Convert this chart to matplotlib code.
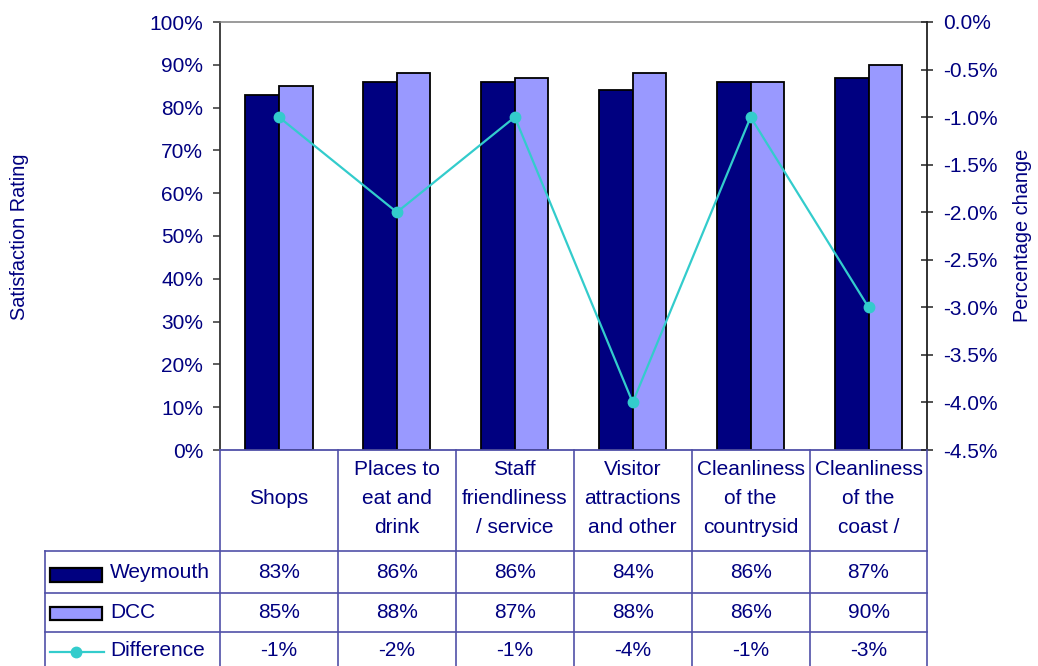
import matplotlib
matplotlib.use("Agg")
import matplotlib.pyplot as plt
import matplotlib.transforms as mtransforms
from matplotlib.lines import Line2D
from matplotlib.patches import Rectangle
from matplotlib.ticker import FuncFormatter, MultipleLocator
import numpy as np

plt.rcParams['font.family'] = ['Liberation Sans', 'DejaVu Sans']

categories = ["Shops", "Places to\neat and\ndrink", "Staff\nfriendliness\n/ service",
              "Visitor\nattractions\nand other", "Cleanliness\nof the\ncountrysid",
              "Cleanliness\nof the\ncoast /"]
weymouth = [0.83, 0.86, 0.86, 0.84, 0.86, 0.87]
dcc = [0.85, 0.88, 0.87, 0.88, 0.86, 0.90]
difference = [-0.01, -0.02, -0.01, -0.04, -0.01, -0.03]
series_names = ["Weymouth", "DCC", "Difference"]

NAVY = '#000080'
LILAC = '#9999FF'
TEAL = '#33CCCC'
TXT = '#000080'
GRID = '#5050A8'
FS = 15

W, H = 1038, 666
fig = plt.figure(figsize=(W / 100, H / 100), dpi=100)

def fx(px):
    return px / W

def fy(py):
    return 1 - py / H

ax = fig.add_axes([fx(220), fy(450), fx(927.5) - fx(220), fy(22) - fy(450)])
n = len(categories)
x = np.arange(n)
bw = 0.285
ax.bar(x - bw / 2, weymouth, bw, color=NAVY, edgecolor='black', linewidth=1.3, zorder=2)
ax.bar(x + bw / 2, dcc, bw, color=LILAC, edgecolor='black', linewidth=1.3, zorder=2)
ax.set_xlim(-0.5, n - 0.5)
ax.set_ylim(0, 1.0)
ax.yaxis.set_major_locator(MultipleLocator(0.1))
ax.yaxis.set_major_formatter(FuncFormatter(lambda v, p: f"{v*100:.0f}%"))
ax.set_xticks([])
ax.tick_params(axis='y', direction='out', length=5, width=1.1, color='#333333',
               labelsize=FS, labelcolor=TXT, pad=7)
ax.spines['left'].set_color('#333333')
ax.spines['left'].set_linewidth(1.3)
ax.spines['top'].set_color('#808080')
ax.spines['top'].set_linewidth(1.1)
ax.spines['bottom'].set_color(GRID)
ax.spines['bottom'].set_linewidth(1.3)
ax.spines['right'].set_visible(False)

ax2 = ax.twinx()
ax2.plot(x, difference, color=TEAL, linewidth=1.6, marker='o', markersize=7.5,
         markerfacecolor=TEAL, markeredgecolor=TEAL, zorder=3)
ax2.set_ylim(-0.045, 0.0)
ax2.yaxis.set_major_locator(MultipleLocator(0.005))
ax2.yaxis.set_major_formatter(FuncFormatter(lambda v, p: f"{v*100:.1f}%" if abs(v) > 1e-9 else "0.0%"))
ax2.tick_params(axis='y', direction='inout', length=9, width=1.1, color='#222222',
                labelsize=FS, labelcolor=TXT, pad=7)
ax2.spines['right'].set_color('#222222')
ax2.spines['right'].set_linewidth(1.3)
for s in ['left', 'top', 'bottom']:
    ax2.spines[s].set_visible(False)

fig.text(fx(20), fy(237), "Satisfaction Rating", rotation=90, ha='center', va='center',
         fontsize=14.3, color=TXT)
fig.text(fx(1023), fy(235), "Percentage change", rotation=90, ha='center', va='center',
         fontsize=14.3, color=TXT)

# ---- data table ----
trans = mtransforms.blended_transform_factory(ax.transData, fig.transFigure)
lw = 1.2
for b in np.arange(-0.5, n, 1.0):
    fig.add_artist(Line2D([b, b], [fy(450), fy(666)], transform=trans, color=GRID, lw=lw))
fig.add_artist(Line2D([fx(45), fx(45)], [fy(550.7), fy(666)], transform=fig.transFigure,
                      color=GRID, lw=lw))
for yy in [550.7, 592.7, 631.7]:
    fig.add_artist(Line2D([fx(45), fx(926.5)], [fy(yy), fy(yy)], transform=fig.transFigure,
                          color=GRID, lw=lw))

for i, c in enumerate(categories):
    fig.text(i, fy(498.5), c, transform=trans, ha='center', va='center', fontsize=FS,
             color=TXT, linespacing=1.64)

rows = [weymouth, dcc, difference]
row_y = [573, 612, 651]
for vals, yy in zip(rows, row_y):
    for i, v in enumerate(vals):
        fig.text(i, fy(yy), f"{v*100:.0f}%", transform=trans, ha='center', va='center',
                 fontsize=FS, color=TXT)

fig.add_artist(Rectangle((fx(50), fy(581.5)), fx(102) - fx(50), fy(568) - fy(581.5),
                         transform=fig.transFigure, facecolor=NAVY, edgecolor='black', lw=1.6))
fig.add_artist(Rectangle((fx(50), fy(620)), fx(102) - fx(50), fy(607) - fy(620),
                         transform=fig.transFigure, facecolor=LILAC, edgecolor='black', lw=1.6))
fig.add_artist(Line2D([fx(50), fx(104)], [fy(651.5), fy(651.5)], transform=fig.transFigure,
                      color=TEAL, lw=1.6))
fig.add_artist(Line2D([fx(76)], [fy(651.5)], transform=fig.transFigure, color=TEAL,
                      marker='o', markersize=7.5, markerfacecolor=TEAL, markeredgecolor=TEAL))
for name, yy in zip(series_names, row_y):
    fig.text(fx(110), fy(yy), name, ha='left', va='center', fontsize=FS, color=TXT)

fig.savefig("out.png", dpi=100)
